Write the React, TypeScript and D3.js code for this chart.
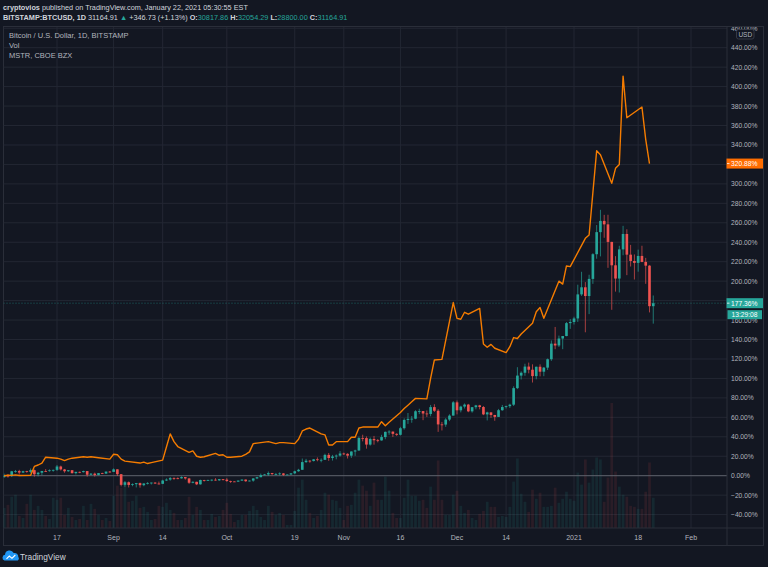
import React from "react";
import * as d3 from "d3";

// ---------- DATA ----------
const START_DATE = "2020-08-03"; // first visible daily bar (consecutive daily bars follow)

const btcOpen = [
  11070, 11236.3, 11190, 11745, 11770, 11600, 11755, 11680, 11880, 11400, 11580, 11780, 11770, 11860, 11910, 12300, 11960, 11750, 11870, 11530, 11680, 11650, 11770, 11350, 11470, 11320, 11540, 11480, 11710,
  11680, 11970, 11410, 10180, 10480, 10170, 10260, 10380, 10140, 10340, 10400, 10440, 10330, 10300, 10680, 10790, 10960, 10940, 10930, 11080, 10920, 10420, 10530, 10240, 10740, 10690, 10720, 10775, 10700, 10840,
  10780, 10620, 10570, 10550, 10670, 10790, 10600, 10670, 10920, 11060, 11300, 11380, 11540, 11430, 11430, 11500, 11330, 11370, 11510, 11750, 11920, 12810, 12970, 12930, 13130, 13040, 13070, 13640, 13280, 13460, 13560,
  13800, 13760, 13550, 14030, 14150, 15590, 15580, 14830, 15480, 15330, 15310, 15700, 16300, 16330, 16070, 15960, 16720, 17680, 17800, 17820, 18680, 18700, 18420, 18370, 19160, 18740, 17160, 17140, 17720, 18180,
  19710, 18790, 19220, 19450, 18670, 19150, 19360, 19170, 18320, 18550, 18250, 18030, 18800, 19170, 19270, 19440, 21350, 22800, 23130, 23840, 23480, 22740, 23820, 23250, 23720, 24690, 26490, 26280, 27080, 27370, 28860,
  28990, 29400, 32180, 33000, 31990, 33970, 36820, 39370, 40670, 40270, 38240, 35540, 34010, 37380, 39160, 36770, 36040, 35820, 36620, 35930, 35500, 30817.86,
];
const btcHigh = [
  11475, 11420, 11790, 11900, 11915, 11810, 11800, 12070, 11950, 11670, 11800, 12000, 11970, 11940, 12470, 12400, 12020, 11890, 11890, 11690, 11710, 11820, 11780, 11550, 11590, 11550, 11580, 11720, 11780,
  12080, 11980, 11430, 10620, 10570, 10350, 10400, 10440, 10360, 10490, 10440, 10480, 10560, 10770, 10930, 11090, 11050, 11040, 11170, 11090, 10990, 10580, 10540, 10780, 10760, 10790, 10800, 10950, 10860, 10850,
  10950, 10660, 10600, 10690, 10800, 10800, 10690, 10950, 11110, 11480, 11440, 11720, 11560, 11560, 11620, 11540, 11400, 11530, 11820, 12030, 13220, 13180, 13030, 13170, 13350, 13240, 13780, 13860, 13640, 13690, 14080,
  13900, 13830, 14060, 14240, 15750, 15970, 15770, 15640, 15830, 15480, 15960, 16340, 16490, 16340, 16140, 16880, 17860, 18480, 18130, 18800, 18970, 18710, 18770, 19410, 19490, 18920, 17450, 17880, 18330, 19850,
  19920, 19320, 19580, 19530, 19170, 19420, 19420, 19280, 18630, 18560, 18270, 18950, 19410, 19330, 19550, 21560, 23770, 23290, 24170, 24300, 24100, 23840, 24100, 23790, 24770, 26860, 28420, 27420, 27370, 28990, 29330,
  29600, 33300, 34790, 33600, 34450, 36940, 40190, 41950, 41370, 41380, 38260, 36600, 37800, 40100, 39700, 37900, 36800, 37350, 37800, 36400, 35550, 32054.29,
];
const btcLow = [
  11000, 11010, 11080, 11580, 11370, 11540, 11570, 11530, 11130, 11160, 11280, 11700, 11700, 11700, 11780, 11830, 11580, 11680, 11490, 11380, 11530, 11600, 11130, 11300, 11140, 11280, 11420, 11460, 11580,
  11660, 11200, 10000, 9950, 9880, 10020, 9880, 9850, 10020, 10220, 10220, 10300, 10230, 10270, 10620, 10660, 10750, 10830, 10900, 10780, 10290, 10360, 10150, 10200, 10560, 10640, 10600, 10660, 10640, 10670,
  10530, 10400, 10520, 10520, 10630, 10530, 10580, 10540, 10840, 11060, 11280, 11200, 11290, 11300, 11270, 11220, 11300, 11350, 11420, 11690, 11900, 12700, 12730, 12880, 12900, 12780, 13050, 12950, 12980, 13130, 13430,
  13630, 13220, 13290, 13530, 14100, 15200, 14360, 14710, 14820, 15090, 15280, 15450, 15960, 15710, 15830, 15880, 16560, 17220, 17350, 17760, 18350, 17650, 18020, 18100, 18600, 16300, 16460, 16880, 17540, 18180,
  18320, 18550, 19000, 18570, 18520, 18900, 18900, 18230, 17620, 17920, 17580, 18020, 18730, 19000, 19060, 19290, 21240, 22350, 22780, 23060, 22000, 22370, 22710, 22730, 23450, 24500, 25850, 26100, 25850, 27340, 28200,
  28700, 29000, 32000, 27800, 29900, 33400, 36300, 36570, 38720, 35250, 30400, 32500, 32400, 36700, 34400, 35400, 33900, 34800, 35900, 33400, 30100, 28800,
];
const btcClose = [
  11236.3, 11190, 11745, 11770, 11600, 11755, 11680, 11880, 11400, 11580, 11780, 11770, 11860, 11910, 12300, 11960, 11750, 11870, 11530, 11680, 11650, 11770, 11350, 11470, 11320, 11540, 11480, 11710, 11680,
  11970, 11410, 10180, 10480, 10170, 10260, 10380, 10140, 10340, 10400, 10440, 10330, 10300, 10680, 10790, 10960, 10940, 10930, 11080, 10920, 10420, 10530, 10240, 10740, 10690, 10720, 10775, 10700, 10840, 10780,
  10620, 10570, 10550, 10670, 10790, 10600, 10670, 10920, 11060, 11300, 11380, 11540, 11430, 11430, 11500, 11330, 11370, 11510, 11750, 11920, 12810, 12970, 12930, 13130, 13040, 13070, 13640, 13280, 13460, 13560, 13800,
  13760, 13550, 14030, 14150, 15590, 15580, 14830, 15480, 15330, 15310, 15700, 16300, 16330, 16070, 15960, 16720, 17680, 17800, 17820, 18680, 18700, 18420, 18370, 19160, 18740, 17160, 17140, 17720, 18180, 19710,
  18790, 19220, 19450, 18670, 19150, 19360, 19170, 18320, 18550, 18250, 18030, 18800, 19170, 19270, 19440, 21350, 22800, 23130, 23840, 23480, 22740, 23820, 23250, 23720, 24690, 26490, 26280, 27080, 27370, 28860, 28990,
  29400, 32180, 33000, 31990, 33970, 36820, 39370, 40670, 40270, 38240, 35540, 34010, 37380, 39160, 36770, 36040, 35820, 36620, 35930, 35500, 30818, 31164.91,
];
const btcVolume = [
  20, 23, 31, 33, 12, 10, 24, 33, 18, 22, 18, 12, 9, 30, 28, 30, 13, 20, 11, 8, 9, 22, 8, 24, 19, 13, 8, 10, 7,
  32, 42, 40, 43, 26, 27, 32, 20, 21, 16, 8, 9, 22, 21, 25, 18, 15, 8, 8, 10, 31, 13, 21, 18, 8, 8, 14, 11, 12, 18,
  25, 14, 6, 8, 13, 13, 17, 22, 18, 11, 8, 22, 16, 13, 15, 13, 3, 3, 17, 40, 48, 28, 15, 10, 12, 18, 35, 33, 28, 27, 20,
  8, 22, 23, 35, 48, 42, 37, 22, 45, 28, 28, 51, 37, 15, 10, 10, 30, 48, 32, 32, 27, 28, 20, 41, 28, 67, 28, 13, 13, 33,
  37, 22, 15, 18, 10, 8, 14, 17, 26, 21, 21, 11, 12, 11, 21, 46, 69, 34, 26, 16, 38, 29, 35, 21, 21, 22, 40, 25, 29, 36, 29,
  27, 55, 43, 68, 45, 58, 70, 68, 26, 50, 124, 56, 41, 33, 31, 22, 21, 19, 19, 36, 65, 30,
];

const mstrDates = [
  "2020-08-03", "2020-08-04", "2020-08-05", "2020-08-06", "2020-08-07", "2020-08-10", "2020-08-11", "2020-08-12", "2020-08-13", "2020-08-14",
  "2020-08-17", "2020-08-18", "2020-08-19", "2020-08-20", "2020-08-21", "2020-08-24", "2020-08-25", "2020-08-26", "2020-08-27", "2020-08-28", "2020-08-31",
  "2020-09-01", "2020-09-02", "2020-09-03", "2020-09-04", "2020-09-08", "2020-09-09", "2020-09-10", "2020-09-11", "2020-09-14", "2020-09-15",
  "2020-09-16", "2020-09-17", "2020-09-18", "2020-09-21", "2020-09-22", "2020-09-23", "2020-09-24", "2020-09-25", "2020-09-28", "2020-09-29", "2020-09-30",
  "2020-10-01", "2020-10-02", "2020-10-05", "2020-10-06", "2020-10-07", "2020-10-08", "2020-10-09", "2020-10-12", "2020-10-13", "2020-10-14", "2020-10-15",
  "2020-10-16", "2020-10-19", "2020-10-20", "2020-10-21", "2020-10-22", "2020-10-23", "2020-10-26", "2020-10-27", "2020-10-28", "2020-10-29", "2020-10-30",
  "2020-11-02", "2020-11-03", "2020-11-04", "2020-11-05", "2020-11-06", "2020-11-09", "2020-11-10", "2020-11-11", "2020-11-12", "2020-11-13",
  "2020-11-16", "2020-11-17", "2020-11-18", "2020-11-19", "2020-11-20", "2020-11-23", "2020-11-24", "2020-11-25", "2020-11-27", "2020-11-30",
  "2020-12-01", "2020-12-02", "2020-12-03", "2020-12-04", "2020-12-07", "2020-12-08", "2020-12-09", "2020-12-10", "2020-12-11", "2020-12-14",
  "2020-12-15", "2020-12-16", "2020-12-17", "2020-12-18", "2020-12-21", "2020-12-22", "2020-12-23", "2020-12-24", "2020-12-28", "2020-12-29",
  "2020-12-30", "2020-12-31", "2021-01-04", "2021-01-05", "2021-01-06", "2021-01-07", "2021-01-08", "2021-01-11", "2021-01-12", "2021-01-13",
  "2021-01-14", "2021-01-15", "2021-01-19", "2021-01-20", "2021-01-21",
];
const mstrPct = [
  0, 0.5, 0.3, 0.8, 0.2, 0.3, 9.5, 11, 13, 19,
  18, 17, 15.5, 17, 18, 19.5, 19, 19.5, 19, 18.5, 17,
  22, 21.5, 17, 15, 13, 14, 12.5, 13.5, 16, 29.5,
  43, 35, 30, 24, 25.5, 20, 19, 19.5, 23, 21, 21.5,
  19, 19, 20, 22, 24.5, 33, 33.5, 35, 34, 33, 34,
  34, 33, 37.4, 46, 48, 49, 43, 42, 31.6, 31.6, 35,
  35, 39.5, 39.5, 49, 50, 50, 50, 55.5, 51.4, 55,
  65, 69, 72.5, 76, 79.5, 79, 100, 119, 119.6, 178,
  161.8, 160.8, 168, 166, 172, 135.4, 132, 135, 131, 126.5,
  132.6, 142, 141, 145.7, 156.7, 168.6, 173, 161.8, 200, 197,
  215.6, 214.9, 244, 247.5, 291, 334, 330, 300.6, 316, 320,
  410.8, 368, 379, 345.8, 320.88,
];

const xTickDates = ["2020-08-17", "2020-09-01", "2020-09-14", "2020-10-01", "2020-10-19", "2020-11-01", "2020-11-16", "2020-12-01", "2020-12-14", "2021-01-01", "2021-01-18", "2021-02-01"];
const xTickLabels = ["17", "Sep", "14", "Oct", "19", "Nov", "16", "Dec", "14", "2021", "18", "Feb"];
const yTickValues = [-40, -20, 0, 20, 40, 60, 80, 100, 120, 140, 160, 180, 200, 220, 240, 260, 280, 300, 320, 340, 360, 380, 400, 420, 440, 460];

const headerLine1 = ["cryptovios", " published on TradingView.com, January 22, 2021 05:30:55 EST"];
const symbolName = "BITSTAMP:BTCUSD, 1D";
const lastPriceText = "31164.91";
const changeText = "+346.73 (+1.13%)";
const ohlcLabels = ["O:", "H:", "L:", "C:"];
const ohlcValues = ["30817.86", "32054.29", "28800.00", "31164.91"];
const legendLines = ["Bitcoin / U.S. Dollar, 1D, BITSTAMP", "Vol", "MSTR, CBOE BZX"];
const countdownText = "13:29:08";

// ---------- STYLE ----------
const BG = "#131722";
const GRID = "#232733";
const BORDER = "#2a2e39";
const TEXT = "#b2b5be";
const UP = "#26a69a";
const DOWN = "#ef5350";
const ORANGE = "#f57c00";
const FONT = "'Liberation Sans', Arial, 'DejaVu Sans', sans-serif";

const L = 3.5, R = 727, T = 27, B = 528, PANE_R = 763.5, PANE_B = 545.5;

export default function App() {
  const parse = d3.utcParse("%Y-%m-%d");
  const start = parse(START_DATE) as Date;
  const dates = btcClose.map((_, i) => d3.utcDay.offset(start, i));

  const x = d3.scaleUtc().domain([parse("2020-08-17") as Date, parse("2021-02-01") as Date]).range([57, 691]);
  const y = d3.scaleLinear().domain([0, 440]).range([475.7, 47.7]);
  const vy = d3.scaleLinear().domain([0, d3.max(btcVolume) as number]).range([B, 403]);

  const base = btcClose[0];
  const pct = (v: number) => (v / base - 1) * 100;
  const step = x(dates[1]) - x(dates[0]);
  const bw = step * 0.7;

  const mstrPts: [Date, number][] = mstrDates.map((d, i) => [parse(d) as Date, mstrPct[i]]);
  const mstrPath = d3.line<[Date, number]>().x((d) => x(d[0])).y((d) => y(d[1]))(mstrPts) || "";

  const lastPct = pct(btcClose[btcClose.length - 1]);
  const lastMstr = mstrPct[mstrPct.length - 1];
  const fmt = (v: number) => (v < 0 ? "\u2212" + Math.abs(v).toFixed(2) : v.toFixed(2)) + "%";

  // axis labels hidden by the value badges (as TradingView does)
  const badgeYs = [y(lastPct), y(lastMstr)];
  const visibleTicks = yTickValues.filter((t) => badgeYs.every((by) => Math.abs(y(t) - by) > 7));

  return (
    <div style={{ position: "absolute", left: 0, top: 0 }}>
      <svg width={768} height={567} style={{ display: "block", fontFamily: FONT }}>
        <defs>
          <clipPath id="plotClip">
            <rect x={L} y={T} width={R - L} height={B - T} />
          </clipPath>
          <clipPath id="axisClip">
            <rect x={R} y={T} width={PANE_R - R} height={B - T} />
          </clipPath>
        </defs>
        <rect x={0} y={0} width={768} height={567} fill={BG} />

        {/* header */}
        <text x={3} y={9.5} fontSize={7.3} fill="#d1d4dc">
          <tspan fontWeight="bold">{headerLine1[0]}</tspan>
          <tspan>{headerLine1[1]}</tspan>
        </text>
        <text x={3} y={19.5} fontSize={7.3} fill="#d1d4dc">
          <tspan fontWeight="bold">{symbolName}</tspan>
          <tspan>{" " + lastPriceText + " "}</tspan>
          <tspan fill={UP}>{"\u25B2"}</tspan>
          <tspan>{" " + changeText + " "}</tspan>
          {ohlcLabels.map((lab, i) => (
            <React.Fragment key={lab}>
              <tspan fontWeight="bold">{(i > 0 ? " " : "") + lab}</tspan>
              <tspan fill={UP}>{ohlcValues[i]}</tspan>
            </React.Fragment>
          ))}
        </text>

        {/* pane frame */}
        <rect x={L} y={T - 0.5} width={PANE_R - L} height={PANE_B - T + 0.5} fill={BG} stroke={BORDER} strokeWidth={1} />

        {/* grid */}
        <g clipPath="url(#plotClip)">
          {yTickValues.map((t) => (
            <line key={"gy" + t} x1={L} x2={R} y1={y(t)} y2={y(t)} stroke={GRID} strokeWidth={1} />
          ))}
          {xTickDates.map((d) => (
            <line key={"gx" + d} x1={x(parse(d) as Date)} x2={x(parse(d) as Date)} y1={T} y2={B} stroke={GRID} strokeWidth={1} />
          ))}

          {/* volume */}
          {btcVolume.map((v, i) => (
            <rect
              key={"v" + i}
              x={x(dates[i]) - step * 0.36}
              y={vy(v)}
              width={step * 0.72}
              height={B - vy(v)}
              fill={btcClose[i] >= btcOpen[i] ? UP : DOWN}
              opacity={btcClose[i] >= btcOpen[i] ? 0.12 : 0.11}
            />
          ))}

          {/* zero line */}
          <line x1={L} x2={R} y1={y(0)} y2={y(0)} stroke="#5d606b" strokeWidth={1} />

          {/* last price dotted line */}
          <line x1={L} x2={R} y1={y(lastPct)} y2={y(lastPct)} stroke={UP} strokeWidth={0.8} strokeDasharray="1 2" opacity={0.7} />

          {/* candles */}
          {btcClose.map((c, i) => {
            const o = btcOpen[i];
            const col = c >= o ? UP : DOWN;
            const cx = x(dates[i]);
            const top = y(pct(Math.max(o, c)));
            const bot = y(pct(Math.min(o, c)));
            return (
              <g key={"c" + i}>
                <line x1={cx} x2={cx} y1={y(pct(btcHigh[i]))} y2={y(pct(btcLow[i]))} stroke={col} strokeWidth={0.9} opacity={0.75} />
                <rect x={cx - bw / 2} y={top} width={bw} height={Math.max(0.8, bot - top)} fill={col} />
              </g>
            );
          })}

          {/* MSTR */}
          <path d={mstrPath} fill="none" stroke={ORANGE} strokeWidth={1.4} strokeLinejoin="round" />
        </g>

        {/* legend */}
        {legendLines.map((s, i) => (
          <text key={s} x={9} y={37.6 + i * 10} fontSize={7.5} fill={TEXT}>
            {s}
          </text>
        ))}

        {/* axes separators */}
        <line x1={R} x2={R} y1={T} y2={PANE_B} stroke={BORDER} strokeWidth={1} />
        <line x1={L} x2={PANE_R} y1={B} y2={B} stroke={BORDER} strokeWidth={1} />

        {/* y axis labels */}
        <g clipPath="url(#axisClip)">
          {visibleTicks.map((t) => (
            <text key={"yl" + t} x={731} y={y(t) + 2.5} fontSize={6.7} fill={TEXT}>
              {fmt(t)}
            </text>
          ))}
        </g>

        {/* USD badge */}
        <rect x={736.5} y={29.5} width={17.5} height={9.5} rx={2} fill={BG} stroke="#363a45" />
        <text x={745.25} y={37} fontSize={6.5} fill={TEXT} textAnchor="middle">USD</text>

        {/* MSTR label */}
        <rect x={726.5} y={y(lastMstr) - 5} width={36.5} height={10} fill="#ff6d00" />
        <line x1={727} x2={729.5} y1={y(lastMstr)} y2={y(lastMstr)} stroke="#fff" strokeWidth={0.8} />
        <text x={731} y={y(lastMstr) + 2.5} fontSize={6.7} fill="#fff">{fmt(lastMstr)}</text>

        {/* BTC last label + countdown */}
        <rect x={726.5} y={y(lastPct) - 5} width={36.5} height={10} fill={UP} />
        <line x1={727} x2={729.5} y1={y(lastPct)} y2={y(lastPct)} stroke="#fff" strokeWidth={0.8} />
        <text x={731} y={y(lastPct) + 2.5} fontSize={6.7} fill="#fff">{fmt(lastPct)}</text>
        <rect x={727.5} y={y(lastPct) + 7} width={34.5} height={9} fill={UP} />
        <text x={731.5} y={y(lastPct) + 14} fontSize={6.7} fill="#fff">{countdownText}</text>

        {/* x axis labels */}
        {xTickDates.map((d, i) => (
          <text key={"xl" + d} x={x(parse(d) as Date)} y={540.3} fontSize={7} fill={TEXT} textAnchor="middle">
            {xTickLabels[i]}
          </text>
        ))}

        {/* footer logo */}
        <g>
          <path d="M4.5,560.5 a3,3 0 0 1 0.5-5.8 a4.6,4.6 0 0 1 8.7-1.6 a3.6,3.6 0 0 1 4.6,3.8 a2.3,2.3 0 0 1 -0.6,3.6 z" fill="#2196f3" />
          <path d="M6.5,558.8 L9.3,556 L12,558.3 L15.3,555" fill="none" stroke="#fff" strokeWidth={1.1} />
          <text x={20} y={559.7} fontSize={8.3} fill="#d1d4dc">TradingView</text>
        </g>
      </svg>
    </div>
  );
}
